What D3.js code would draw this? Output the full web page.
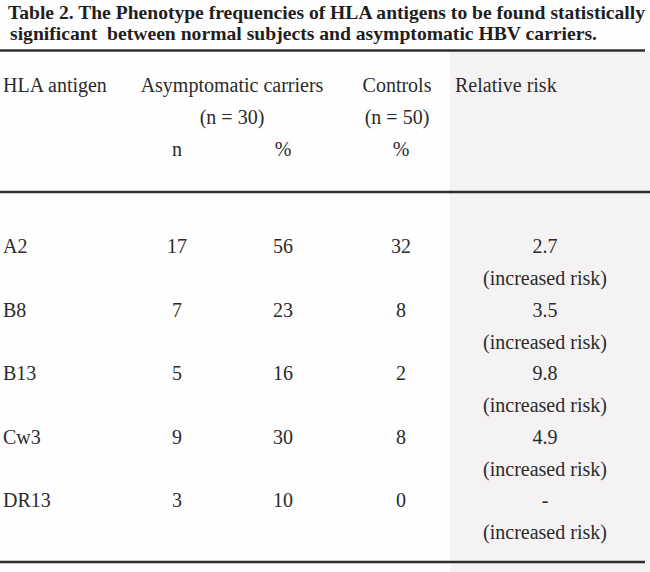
<!DOCTYPE html>
<html>
<head>
<meta charset="utf-8">
<script src="https://cdn.jsdelivr.net/npm/d3@7/dist/d3.min.js"></script>
<style>
  html, body { margin: 0; padding: 0; background: #fefefe; }
  svg { display: block; }
  text { font-family: "Liberation Serif", "Times New Roman", serif; fill: #2b2b2b; white-space: pre; }
</style>
</head>
<body>
<div id="chart"></div>
<script>
'use strict';

const titleLines = [
    'Table 2. The Phenotype frequencies of HLA antigens to be found statistically',
    'significant  between normal subjects and asymptomatic HBV carriers.'
];
const antigens = ['A2', 'B8', 'B13', 'Cw3', 'DR13'];
const carrierN = [17, 7, 5, 9, 3];
const carrierPct = [56, 23, 16, 30, 10];
const controlPct = [32, 8, 2, 8, 0];
const relativeRisk = ['2.7', '3.5', '9.8', '4.9', '-'];
const riskNote = ['(increased risk)', '(increased risk)', '(increased risk)', '(increased risk)', '(increased risk)'];

const width = 650, height = 572;

const svg = d3.select('#chart').append('svg')
    .attr('width', width)
    .attr('height', height);

// scanned page: right part slightly greyish
svg.append('rect')
    .attr('x', 450).attr('y', 52)
    .attr('width', width - 450).attr('height', height - 52)
    .attr('fill', '#f4f2f3');

// column centres
const col = d3.scaleOrdinal()
    .domain(['n', 'pct', 'ctrl', 'rr'])
    .range([177, 283, 401, 545]);

// row baselines
const rowY = d3.scaleLinear()
    .domain([0, antigens.length - 1])
    .range([253, 507]);

// title
const titleWidths = [637, 587];
svg.selectAll('text.title')
    .data(titleLines)
    .join('text')
    .attr('class', 'title')
    .attr('x', (d, i) => i === 0 ? 8 : 10)
    .attr('y', (d, i) => i === 0 ? 19 : 40)
    .attr('font-size', 18.8)
    .attr('font-weight', 'bold')
    .attr('textLength', (d, i) => titleWidths[i])
    .attr('lengthAdjust', 'spacingAndGlyphs')
    .style('fill', '#1f1f1f')
    .text(d => d);

// rules
const rules = [
    {y: 50.5, x2: 645},
    {y: 192, x2: 650},
    {y: 562, x2: 645}
];
svg.selectAll('line.rule')
    .data(rules)
    .join('line')
    .attr('class', 'rule')
    .attr('x1', 0)
    .attr('x2', d => d.x2)
    .attr('y1', d => d.y)
    .attr('y2', d => d.y)
    .attr('stroke', '#2e2e2e')
    .attr('stroke-width', 2.6);

// header
const header = [
    {t: 'HLA antigen', x: 3, y: 92, a: 'start'},
    {t: 'Asymptomatic carriers', x: 232, y: 92, a: 'middle'},
    {t: 'Controls', x: 397, y: 92, a: 'middle'},
    {t: 'Relative risk', x: 455, y: 92, a: 'start'},
    {t: '(n = 30)', x: 232, y: 124, a: 'middle'},
    {t: '(n = 50)', x: 397, y: 124, a: 'middle'},
    {t: 'n', x: col('n'), y: 156, a: 'middle'},
    {t: '%', x: col('pct'), y: 156, a: 'middle'},
    {t: '%', x: col('ctrl'), y: 156, a: 'middle'}
];
svg.selectAll('text.head')
    .data(header)
    .join('text')
    .attr('class', 'head')
    .attr('x', d => d.x)
    .attr('y', d => d.y)
    .attr('text-anchor', d => d.a)
    .attr('font-size', 20)
    .text(d => d.t);

// body rows
const rows = svg.selectAll('g.row')
    .data(antigens)
    .join('g')
    .attr('class', 'row')
    .attr('transform', (d, i) => `translate(0,${rowY(i)})`);

rows.append('text')
    .attr('x', 3)
    .attr('font-size', 20)
    .text(d => d);

const cells = [
    {key: 'n', values: carrierN},
    {key: 'pct', values: carrierPct},
    {key: 'ctrl', values: controlPct},
    {key: 'rr', values: relativeRisk}
];
cells.forEach(c => {
    rows.append('text')
        .attr('x', col(c.key))
        .attr('text-anchor', 'middle')
        .attr('font-size', 20)
        .text((d, i) => c.values[i]);
});

rows.append('text')
    .attr('x', col('rr'))
    .attr('y', 32)
    .attr('text-anchor', 'middle')
    .attr('font-size', 20)
    .text((d, i) => riskNote[i]);
</script>
</body>
</html>
